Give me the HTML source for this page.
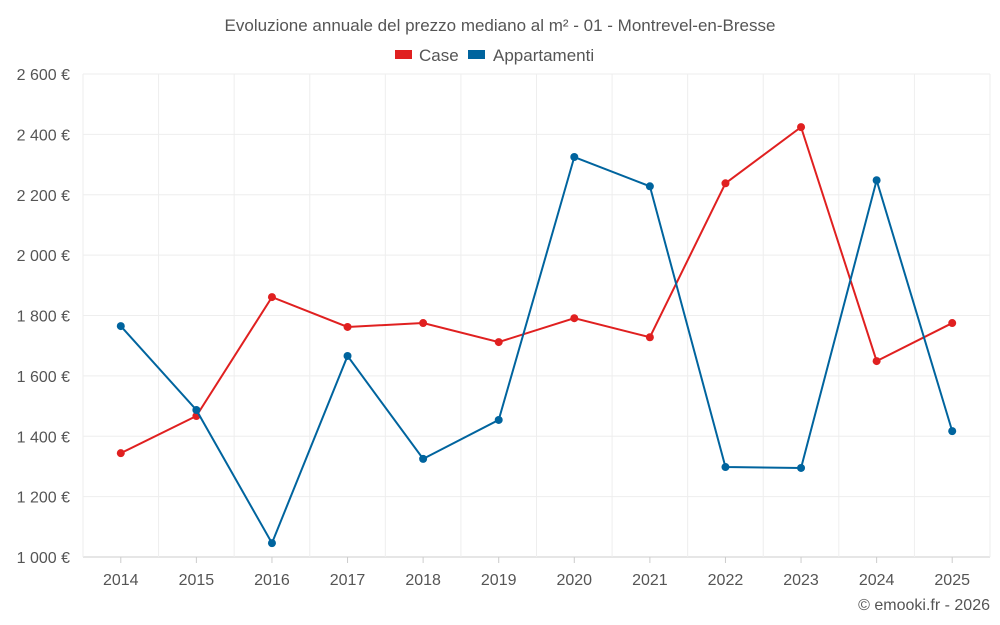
<!DOCTYPE html>
<html><head><meta charset="utf-8">
<style>
html,body{margin:0;padding:0;background:#fff;}
svg{display:block;font-family:"Liberation Sans",sans-serif;}
</style></head>
<body>
<svg id="chart" width="1000" height="625" viewBox="0 0 1000 625">
<text x="500" y="31" text-anchor="middle" font-size="17" fill="#555">Evoluzione annuale del prezzo mediano al m² - 01 - Montrevel-en-Bresse</text>
<g>
<g><rect x="395" y="50" width="17" height="9" fill="#e02020"/><text x="419" y="61" font-size="17" fill="#555">Case</text></g>
<g><rect x="468" y="50" width="17" height="9" fill="#00649e"/><text x="493" y="61" font-size="17" fill="#555">Appartamenti</text></g>
</g>
<g id="grid"></g>
<g id="axes"></g>
<g id="series"></g>
<text x="990" y="610" text-anchor="end" font-size="16" fill="#555">© emooki.fr - 2026</text>
</svg>
<script>
const years = [2014,2015,2016,2017,2018,2019,2020,2021,2022,2023,2024,2025];
const caseValues = [1344,1467,1861,1762,1775,1712,1791,1728,2238,2424,1649,1775];
const appValues = [1765,1487,1046,1666,1325,1454,2325,2228,1298,1295,2248,1417];
const yTicks = [1000,1200,1400,1600,1800,2000,2200,2400,2600];
const yTickLabels = ["1 000 €","1 200 €","1 400 €","1 600 €","1 800 €","2 000 €","2 200 €","2 400 €","2 600 €"];

const L=83,R=990,T=74,B=557,yMin=1000,yMax=2600;
const step=(R-L)/years.length;
const x=i=>L+step*(i+0.5);
const y=v=>B-(v-yMin)/(yMax-yMin)*(B-T);
const NS="http://www.w3.org/2000/svg";
function mk(tag,attrs,parent){const e=document.createElementNS(NS,tag);for(const k in attrs)e.setAttribute(k,attrs[k]);parent.appendChild(e);return e;}
const grid=document.getElementById('grid'),axes=document.getElementById('axes'),series=document.getElementById('series');
yTicks.forEach((t,i)=>{
  const g=mk('line',{x1:L,x2:R,y1:y(t),y2:y(t),stroke:i===0?'#ccc':'#eee','stroke-width':1},grid);
  
  
  const tx=mk('text',{x:70,y:y(t)+6,'text-anchor':'end','font-size':16,fill:'#555'},axes);
  tx.textContent=yTickLabels[i];
  
  
});
for(let i=0;i<=years.length;i++){
  const g=mk('line',{x1:L+step*i,x2:L+step*i,y1:T,y2:B,stroke:'#eee','stroke-width':1},grid);
  
  
}
years.forEach((yr,i)=>{
  const tk=mk('line',{x1:x(i),x2:x(i),y1:B,y2:B+6,stroke:'#ccc'},axes);
  
  
  const tx=mk('text',{x:x(i),y:585,'text-anchor':'middle','font-size':16,fill:'#555'},axes);
  tx.textContent=yr;
  
  
});
function draw(vals,color,name){
  const p=mk('polyline',{points:vals.map((v,i)=>x(i)+','+y(v)).join(' '),fill:'none',stroke:color,'stroke-width':2},series);
  
  
  vals.forEach((v,i)=>{
    const c=mk('circle',{cx:x(i),cy:y(v),r:4,fill:color},series);
    
    
  });
}
draw(caseValues,'#e02020','case');
draw(appValues,'#00649e','appartamenti');
</script>
</body></html>
